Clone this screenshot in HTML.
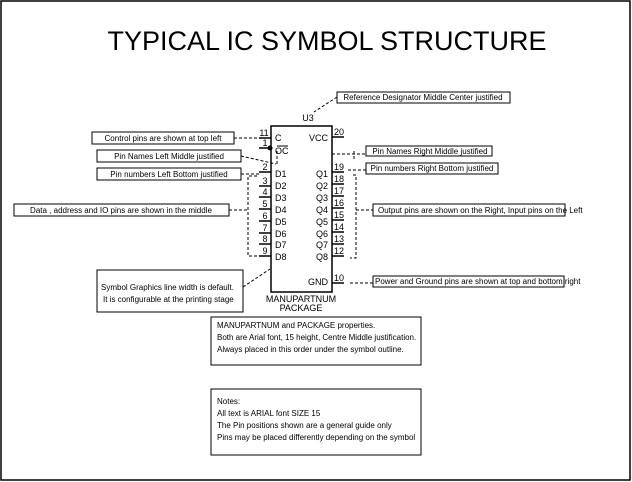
<!DOCTYPE html>
<html><head><style>
html,body{margin:0;padding:0;background:#fff;}
svg{display:block;font-family:"Liberation Sans",Arial,sans-serif;}
</style></head><body>
<svg width="632" height="482" viewBox="0 0 632 482" xmlns="http://www.w3.org/2000/svg">
<rect x="1" y="1" width="629" height="479" fill="#fff" stroke="#000" stroke-width="1.5"/>
<text x="327" y="50" font-size="27" text-anchor="middle" fill="#000">TYPICAL IC SYMBOL STRUCTURE</text>

<g fill="none" stroke="#000" stroke-width="1.5">
<rect x="271" y="126" width="61" height="166"/>
<!-- left pins -->
<path d="M259 138H271M259 148H269M259 172H271M259 186H271M259 197H271M259 209H271M259 221H271M259 233H271M259 244H271M259 256H271"/>
<circle cx="270" cy="148" r="1.8" fill="#000"/>
<!-- right pins -->
<path d="M332 137H344M332 172H344M332 184H344M332 196H344M332 208H344M332 220H344M332 232H344M332 244H344M332 256H344M332 283H344"/>
</g>
<line x1="277" y1="146" x2="288" y2="146" stroke="#000" stroke-width="1"/>

<g font-size="9" fill="#000">
<text x="308" y="121" text-anchor="middle">U3</text>
<g text-anchor="middle">
<text x="264" y="136">11</text><text x="265" y="146">1</text><text x="265" y="170">2</text><text x="265" y="184">3</text><text x="265" y="195">4</text><text x="265" y="207">5</text><text x="265" y="219">6</text><text x="265" y="231">7</text><text x="265" y="242">8</text><text x="265" y="254">9</text>
<text x="339" y="135">20</text><text x="339" y="170">19</text><text x="339" y="182">18</text><text x="339" y="194">17</text><text x="339" y="206">16</text><text x="339" y="218">15</text><text x="339" y="230">14</text><text x="339" y="242">13</text><text x="339" y="254">12</text><text x="339" y="281">10</text>
</g>
<text x="275" y="141">C</text><text x="275" y="154">OC</text>
<text x="275" y="177">D1</text><text x="275" y="189">D2</text><text x="275" y="201">D3</text><text x="275" y="213">D4</text><text x="275" y="225">D5</text><text x="275" y="237">D6</text><text x="275" y="248">D7</text><text x="275" y="260">D8</text>
<g text-anchor="end">
<text x="328" y="141">VCC</text>
<text x="328" y="177">Q1</text><text x="328" y="189">Q2</text><text x="328" y="201">Q3</text><text x="328" y="213">Q4</text><text x="328" y="225">Q5</text><text x="328" y="237">Q6</text><text x="328" y="248">Q7</text><text x="328" y="260">Q8</text>
<text x="328" y="285">GND</text>
</g>
<text x="301" y="302" text-anchor="middle">MANUPARTNUM</text>
<text x="301" y="311" text-anchor="middle">PACKAGE</text>
</g>

<!-- dashed connectors -->
<g fill="none" stroke="#000" stroke-width="1" stroke-dasharray="3,2">
<path d="M234 138H257"/>
<path d="M241 156L276 164"/>
<path d="M277 151V166"/>
<path d="M241 174H259"/>
<path d="M257 176H248V256H257"/>
<path d="M229 210H248"/>
<path d="M243 287L270 269"/>
<path d="M337 97L314 112"/>
<path d="M332 154H366"/>
<path d="M354 151V160"/>
<path d="M348 170H366"/>
<path d="M353 175H356V258H350"/>
<path d="M356 210H373"/>
<path d="M350 283H373"/>
</g>

<!-- annotation boxes -->
<g fill="#fff" stroke="#000" stroke-width="1">
<rect x="92" y="132" width="142" height="12"/>
<rect x="97" y="150" width="144" height="12"/>
<rect x="97" y="168" width="144" height="12"/>
<rect x="14" y="204" width="215" height="12"/>
<rect x="97" y="270" width="146" height="42"/>
<rect x="337" y="92" width="173" height="11"/>
<rect x="366" y="146" width="126" height="10"/>
<rect x="366" y="163" width="132" height="11"/>
<rect x="373" y="204" width="192" height="12"/>
<rect x="373" y="276" width="191" height="11"/>
<rect x="211" y="317" width="210" height="48"/>
<rect x="211" y="389" width="210" height="66"/>
</g>
<g font-size="8" fill="#000">
<text x="163" y="141" text-anchor="middle">Control pins are shown at top left</text>
<text x="169" y="159" text-anchor="middle">Pin Names Left Middle justified</text>
<text x="169" y="177" text-anchor="middle">Pin numbers Left Bottom justified</text>
<text x="121" y="213" text-anchor="middle">Data , address and IO pins are shown in the middle</text>
<text x="101" y="290">Symbol Graphics line width is default.</text>
<text x="103" y="302">It is configurable at the printing stage</text>
<text x="423" y="100" text-anchor="middle">Reference Designator Middle Center justified</text>
<text x="430" y="154" text-anchor="middle">Pin Names Right Middle justified</text>
<text x="432" y="171" text-anchor="middle">Pin numbers Right Bottom justified</text>
<text x="378" y="213">Output pins are shown on the Right, Input pins on the Left</text>
<text x="375" y="284">Power and Ground pins are shown at top and bottom right</text>
<text x="217" y="328">MANUPARTNUM and PACKAGE properties.</text>
<text x="217" y="340">Both are Arial font, 15 height, Centre Middle justification.</text>
<text x="217" y="352">Always placed in this order under the symbol outline.</text>
<text x="217" y="404">Notes:</text>
<text x="217" y="416">All text is ARIAL font SIZE 15</text>
<text x="217" y="428">The Pin positions shown are a general guide only</text>
<text x="217" y="440">Pins may be placed differently depending on the symbol</text>
</g>
</svg>
</body></html>
